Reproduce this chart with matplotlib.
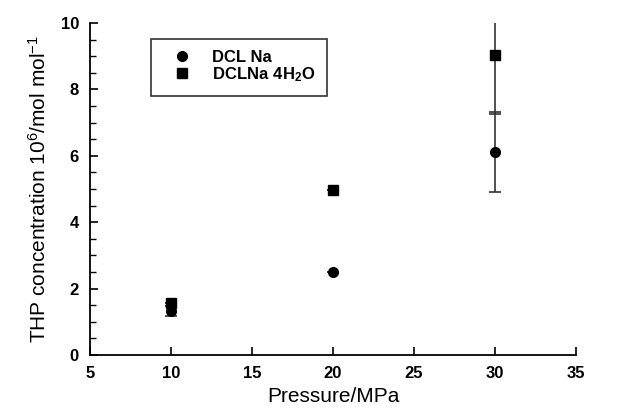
import matplotlib
matplotlib.use("Agg")
import matplotlib.pyplot as plt
from matplotlib.ticker import MultipleLocator

plt.rcParams['font.family'] = ['Liberation Sans', 'DejaVu Sans']
plt.rcParams['mathtext.fontset'] = 'custom'
plt.rcParams['mathtext.rm'] = 'Liberation Sans'
plt.rcParams['mathtext.bf'] = 'Liberation Sans:bold'
plt.rcParams['mathtext.default'] = 'regular'

# dane
cisnienie = [10, 20, 30]
dcl_na = [1.32, 2.5, 6.12]
dcl_na_err = [0.15, 0.0, 1.2]
dcl_na_4h2o = [1.58, 4.96, 9.04]
dcl_na_4h2o_err = [0.0, 0.0, 1.78]

fig = plt.figure(figsize=(6.23, 4.15), dpi=100)
ax = fig.add_axes([0.1445, 0.1446, 0.780, 0.800])

e1 = ax.errorbar(cisnienie, dcl_na, yerr=dcl_na_err, fmt='o', color='black',
                 ms=7, ecolor='#333333', elinewidth=1.2, capsize=4, capthick=1.2)
e2 = ax.errorbar(cisnienie, dcl_na_4h2o, yerr=dcl_na_4h2o_err, fmt='s', color='black',
                 ms=7, ecolor='#333333', elinewidth=1.2, capsize=4, capthick=1.2)

ax.set_xlim(5, 35)
ax.set_ylim(0, 10)
ax.xaxis.set_major_locator(MultipleLocator(5))
ax.yaxis.set_major_locator(MultipleLocator(2))
ax.yaxis.set_minor_locator(MultipleLocator(0.5))
ax.tick_params(direction='in', which='major', length=6, width=1.2, labelsize=12, pad=8)
ax.tick_params(direction='in', which='minor', length=4, width=1.0)
for t in ax.get_xticklabels() + ax.get_yticklabels():
    t.set_fontweight('bold')

ax.spines['top'].set_visible(False)
ax.spines['right'].set_visible(False)
ax.spines['left'].set_linewidth(1.3)
ax.spines['bottom'].set_linewidth(1.3)

ax.set_xlabel('Pressure/MPa', fontsize=15, labelpad=4)
ax.set_ylabel('THP concentration 10$^{6}$/mol mol$^{-1}$', fontsize=15, labelpad=8)

leg = ax.legend([e1[0], e2[0]], ['DCL Na', r'$\mathbf{DCLNa\ 4H_{2}O}$'],
                loc='upper left', bbox_to_anchor=(0.125, 0.953), frameon=True,
                fancybox=False, edgecolor='black', borderpad=0.7, handletextpad=0.6,
                labelspacing=0.0, prop={'weight': 'bold', 'size': 12},
                handlelength=2.4, borderaxespad=0)
leg.get_frame().set_linewidth(1.2)

fig.savefig('out.png', dpi=100)
